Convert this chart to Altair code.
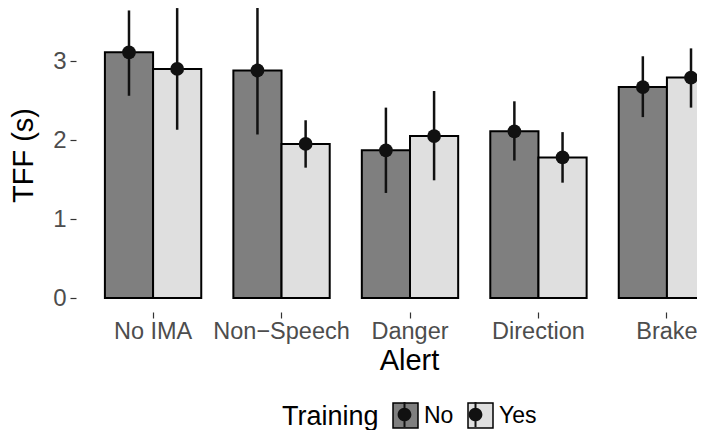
import altair as alt
import pandas as pd

alerts = ["No IMA", "Non\u2212Speech", "Danger", "Direction", "Brake"]
trainings = ["No", "Yes"]
mean_no = [3.11, 2.88, 1.87, 2.11, 2.67]
lo_no = [2.56, 2.07, 1.33, 1.74, 2.29]
hi_no = [3.64, 3.69, 2.41, 2.49, 3.06]
mean_yes = [2.90, 1.95, 2.05, 1.78, 2.79]
lo_yes = [2.13, 1.65, 1.49, 1.46, 2.41]
hi_yes = [3.67, 2.25, 2.62, 2.10, 3.16]
y_ticks = [0, 1, 2, 3]

rows = []
for i, a in enumerate(alerts):
    rows.append({"Alert": a, "Training": "No", "Training2": "No",
                 "mean": mean_no[i], "lo": lo_no[i], "hi": hi_no[i]})
    rows.append({"Alert": a, "Training": "Yes", "Training2": "Yes",
                 "mean": mean_yes[i], "lo": lo_yes[i], "hi": hi_yes[i]})
df = pd.DataFrame(rows)

FONT = "Liberation Sans"
yscale = alt.Scale(domain=[-0.177, 3.671], nice=False, zero=False)

xenc = alt.X("Alert:N", sort=alerts,
             scale=alt.Scale(range=[0, 668], paddingInner=0.25, paddingOuter=0.225),
             axis=alt.Axis(title="Alert", labelAngle=0, labelFontSize=23.5,
                           labelColor="#4d4d4d", labelFont=FONT, labelPadding=1,
                           tickSize=6, tickColor="#333333", tickWidth=1.2,
                           domain=False, grid=False,
                           titleFontSize=29, titleFont=FONT, titleFontWeight="normal",
                           titleColor="black", titleX=333, titleY=57,
                           titleBaseline="alphabetic", titleAlign="center"))
xoff = alt.XOffset("Training:N", sort=trainings,
                   scale=alt.Scale(paddingInner=0, paddingOuter=0))

base = alt.Chart(df).encode(x=xenc, xOffset=xoff)

bars = base.mark_bar(stroke="black", strokeWidth=2, clip=True).encode(
    y=alt.Y("mean:Q", scale=yscale,
            axis=alt.Axis(title="TFF (s)", values=y_ticks, format="d",
                          labelFontSize=24, labelColor="#4d4d4d", labelFont=FONT,
                          labelPadding=4, tickSize=6, tickColor="#333333", tickWidth=1.2,
                          domain=False, grid=False,
                          titleFontSize=29, titleFont=FONT, titleFontWeight="normal",
                          titleColor="black", titleX=-53, titleY=147,
                          titleAlign="center", titleBaseline="middle")),
    y2=alt.datum(0),
    fill=alt.Fill("Training:N", sort=trainings,
                  scale=alt.Scale(domain=trainings, range=["#7f7f7f", "#dfdfdf"]),
                  legend=alt.Legend(title="Training", symbolType="square",
                                    symbolStrokeColor="black", symbolStrokeWidth=1.5,
                                    symbolOpacity=1, symbolSize=625,
                                    titleColor="black", labelColor="black",
                                    orient="none", legendX=206, legendY=394,
                                    direction="horizontal", titleOrient="left",
                                    titleFontSize=27, titleFont=FONT,
                                    titleFontWeight="normal", labelFontSize=23,
                                    labelFont=FONT, titlePadding=13, labelOffset=5,
                                    columnPadding=11)),
)

rules = base.mark_rule(strokeWidth=2.5, color="#111111", clip=True).encode(
    y=alt.Y("lo:Q", scale=yscale), y2="hi:Q")

points = base.mark_point(filled=True, size=190, color="#111111", opacity=1,
                         clip=True).encode(y=alt.Y("mean:Q", scale=yscale))

glyph = ("M -0.55 0 A 0.55 0.55 0 1 1 0.55 0 A 0.55 0.55 0 1 1 -0.55 0 Z "
         "M -0.08 -1 L 0.08 -1 L 0.08 1 L -0.08 1 Z")

ghost = base.mark_point(filled=True, opacity=0, color="#111111", clip=True).encode(
    y=alt.Y("mean:Q", scale=yscale),
    shape=alt.Shape("Training2:N", sort="ascending",
                    scale=alt.Scale(range=[glyph, glyph]),
                    legend=alt.Legend(title=None, labelExpr="''",
                                      symbolFillColor="#111111",
                                      symbolStrokeWidth=0, symbolOpacity=1,
                                      symbolSize=625,
                                      orient="none", legendX=316, legendY=394,
                                      direction="horizontal", labelFontSize=23,
                                      labelFont=FONT, labelOffset=5,
                                      columnPadding=41)),
)

chart = alt.layer(bars, rules, points, ghost).properties(
    width=621, height=304,
    autosize=alt.AutoSizeParams(type="none"),
    padding={"left": 68, "top": 0, "right": 0, "bottom": 118},
    background="white",
).configure_view(stroke=None)

chart.save("out.html", embed_options={"renderer": "svg", "actions": False})
